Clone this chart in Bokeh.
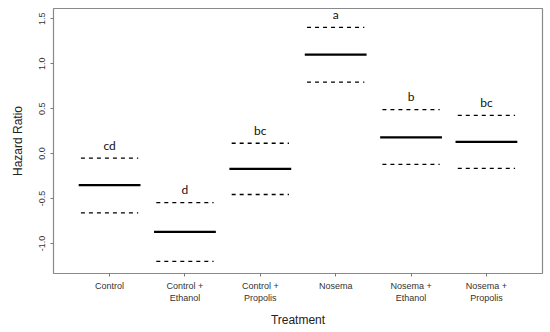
from bokeh.plotting import figure
from bokeh.models import ColumnDataSource, Range1d, FixedTicker
from bokeh.embed import file_html
from bokeh.resources import INLINE
from bokeh.core.properties import value

treatments = ["Control", "Control +\nEthanol", "Control +\nPropolis", "Nosema", "Nosema +\nEthanol", "Nosema +\nPropolis"]
positions = [1, 2, 3, 4, 5, 6]
hazard = [-0.35, -0.87, -0.17, 1.10, 0.18, 0.13]
upper = [-0.05, -0.545, 0.115, 1.405, 0.49, 0.425]
lower = [-0.66, -1.20, -0.455, 0.795, -0.12, -0.165]
letters = ["cd", "d", "bc", "a", "b", "bc"]
y_ticks = [-1.0, -0.5, 0.0, 0.5, 1.0, 1.5]

half_solid = 0.41
half_dash = 0.38
src = ColumnDataSource(dict(
    x=positions, hr=hazard, up=upper, lo=lower, lab=letters,
    xs0=[v - half_solid for v in positions], xs1=[v + half_solid for v in positions],
    xd0=[v - half_dash for v in positions], xd1=[v + half_dash for v in positions],
))

p = figure(width=544, height=329, output_backend="svg", toolbar_location=None,
           x_range=Range1d(0.256, 6.744), y_range=Range1d(-1.334, 1.614),
           min_border_left=53, min_border_right=2, min_border_top=8, min_border_bottom=0)
p.background_fill_color = "white"
p.border_fill_color = "white"
p.outline_line_color = "#8a8a8a"
p.outline_line_width = 1.2
p.grid.visible = False

p.segment(x0="xs0", x1="xs1", y0="hr", y1="hr", source=src, line_color="black", line_width=2.2)
p.segment(x0="xd0", x1="xd1", y0="up", y1="up", source=src, line_color="black", line_width=1.3, line_dash="4 4")
p.segment(x0="xd0", x1="xd1", y0="lo", y1="lo", source=src, line_color="black", line_width=1.3, line_dash="4 4")
p.text(x="x", y="up", text="lab", source=src, text_align="center", text_baseline="middle",
       y_offset=-13, text_font=value("Lato"), text_font_size="12px", text_color="#111111")

xa = p.xaxis[0]
xa.ticker = FixedTicker(ticks=positions)
xa.major_label_overrides = {pos: lab for pos, lab in zip(positions, treatments)}
xa.axis_label = "Treatment"
ya = p.yaxis[0]
ya.ticker = FixedTicker(ticks=y_ticks)
ya.major_label_overrides = {t: f"{t:.1f}" for t in y_ticks}
ya.axis_label = "Hazard Ratio"
ya.major_label_orientation = "vertical"

for ax in (xa, ya):
    ax.axis_line_color = None
    ax.major_tick_line_color = "#777777"
    ax.major_tick_out = 3
    ax.major_tick_in = 0
    ax.minor_tick_line_color = None
    ax.major_label_text_font = "Liberation Sans"
    ax.major_label_text_font_size = "9px"
    ax.major_label_text_color = "#333333"
    ax.major_label_standoff = 5
    ax.axis_label_text_font = "Liberation Sans"
    ax.axis_label_text_font_size = "12px"
    ax.axis_label_text_font_style = "normal"
    ax.axis_label_text_color = "#222222"
xa.major_label_standoff = 4
xa.axis_label_standoff = 7
ya.axis_label_standoff = 12

open("out.html", "w").write(file_html(p, INLINE))
